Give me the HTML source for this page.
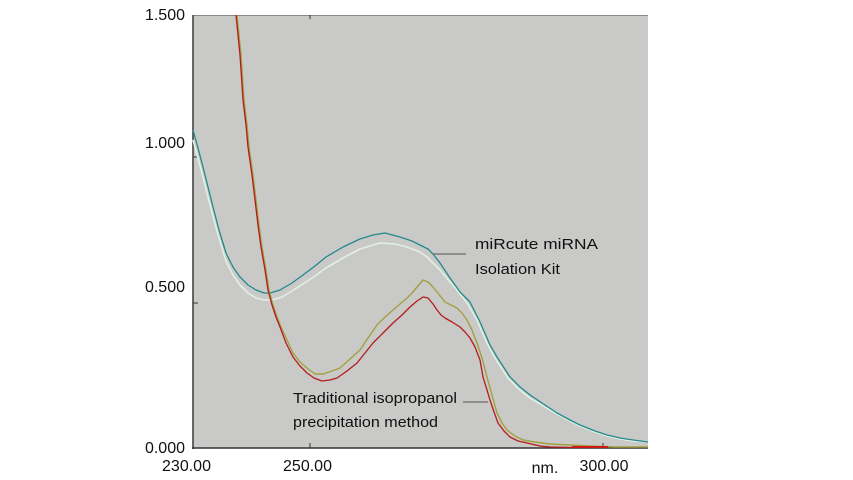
<!DOCTYPE html>
<html>
<head>
<meta charset="utf-8">
<style>
html,body{margin:0;padding:0;background:#fff;}
svg{display:block;}
text{font-family:"Liberation Sans",Arial,sans-serif;fill:#111;}
</style>
</head>
<body>
<svg width="853" height="480" viewBox="0 0 853 480" xmlns="http://www.w3.org/2000/svg">
<rect x="0" y="0" width="853" height="480" fill="#fff"/>
<rect x="193" y="15" width="455" height="433" fill="#c9c9c7"/>
<line x1="193" y1="15.5" x2="648" y2="15.5" stroke="#8a8a8a" stroke-width="1"/>
<line x1="193" y1="15" x2="193" y2="449" stroke="#444" stroke-width="1.6"/>
<line x1="192" y1="448" x2="648" y2="448" stroke="#333" stroke-width="1.6"/>
<!-- ticks -->
<line x1="310" y1="15" x2="310" y2="19" stroke="#333" stroke-width="1"/>
<line x1="310" y1="443" x2="310" y2="448" stroke="#333" stroke-width="1"/>
<line x1="603" y1="443" x2="603" y2="448" stroke="#333" stroke-width="1"/>
<line x1="193" y1="157" x2="198" y2="157" stroke="#333" stroke-width="1"/>
<line x1="193" y1="303" x2="198" y2="303" stroke="#333" stroke-width="1"/>

<!-- light teal -->
<polyline fill="none" stroke="#e2efe2" stroke-width="1.6" stroke-linejoin="round" points="193,140 198,158 203,177 208,197 213,216 219,238 226,261 233,275 240,285 248,293 256,298 264,300 272,300 282,297 292,291 303,284 315,276 326,268 343,258 360,249 380,243 395,244 407,247 420,252 427,257 440,270 450,282 457,290 467,303 477,320 487,343 495,358 508,378 520,390 530,398 545,407 557,414 570,421 580,426 595,432 607,436 620,439 633,441 648,442"/>
<!-- teal -->
<polyline fill="none" stroke="#218a8c" stroke-width="1.3" stroke-linejoin="round" points="193,130 198,148 203,167 208,187 213,207 219,230 226,253 233,267 240,277 248,285 256,290 264,293 270,293 280,290 292,283 303,275 315,266 326,257 343,247 360,239 373,235 385,233 400,237 412,241 420,245 428,249 433,254 440,263 450,278 460,292 470,302 480,322 490,345 497,357 510,377 520,387 530,395 545,405 557,413 570,420 580,425 595,431 607,435 620,438 633,440 648,442"/>
<!-- olive -->
<polyline fill="none" stroke="#a3a040" stroke-width="1.4" stroke-linejoin="round" points="237,15 241,55 244,100 247,125 249,147 253,175 256,200 259,225 262,247 266,270 269,290 273,305 277,317 281,327 287,340 293,353 300,362 307,368 315,374 323,374 332,371 340,368 350,359 360,350 368,338 377,325 385,317 393,310 400,304 407,298 412,293 417,287 423,280 428,282 433,287 437,292 441,297 445,302 451,305 457,308 462,313 467,320 472,330 477,343 482,358 487,377 492,395 497,413 502,423 507,430 515,436 523,440 535,442 550,444 570,445 590,446 615,447 640,447 648,447"/>
<!-- red -->
<polyline fill="none" stroke="#b41c1c" stroke-width="1.3" stroke-linejoin="round" points="236,15 240,55 243,100 246,125 248,147 252,175 255,200 258,225 261,247 265,270 268,290 272,305 276,317 280,327 286,343 293,357 300,366 307,373 314,378 322,381 330,380 337,378 347,371 357,363 365,353 373,343 383,333 393,323 402,315 410,307 417,301 423,297 428,298 433,304 437,310 441,315 445,318 452,322 460,327 465,332 470,338 475,347 480,360 483,377 487,390 490,400 494,412 498,423 504,431 510,437 518,441 527,443 540,446 550,447 573,447.5"/>
<line x1="572" y1="447" x2="608" y2="447" stroke="#d01818" stroke-width="2"/>

<!-- legend lines -->
<line x1="433" y1="254" x2="466" y2="254" stroke="#6a6a6a" stroke-width="1.2"/>
<line x1="463" y1="402" x2="488" y2="402" stroke="#6a6a6a" stroke-width="1.2"/>

<!-- legend text -->
<text x="475" y="249" font-size="15" textLength="123" lengthAdjust="spacingAndGlyphs">miRcute miRNA</text>
<text x="475" y="274" font-size="15" textLength="85" lengthAdjust="spacingAndGlyphs">Isolation Kit</text>
<text x="293" y="403" font-size="15" textLength="164" lengthAdjust="spacingAndGlyphs">Traditional isopropanol</text>
<text x="293" y="427" font-size="15" textLength="145" lengthAdjust="spacingAndGlyphs">precipitation method</text>

<!-- y labels -->
<text x="185" y="20" font-size="16" text-anchor="end">1.500</text>
<text x="185" y="148" font-size="16" text-anchor="end">1.000</text>
<text x="185" y="292" font-size="16" text-anchor="end">0.500</text>
<text x="185" y="453" font-size="16" text-anchor="end">0.000</text>

<!-- x labels -->
<text x="186.5" y="471" font-size="16" text-anchor="middle">230.00</text>
<text x="307.5" y="471" font-size="16" text-anchor="middle">250.00</text>
<text x="604" y="471" font-size="16" text-anchor="middle">300.00</text>
<text x="545" y="473" font-size="16" text-anchor="middle">nm.</text>
</svg>
</body>
</html>
